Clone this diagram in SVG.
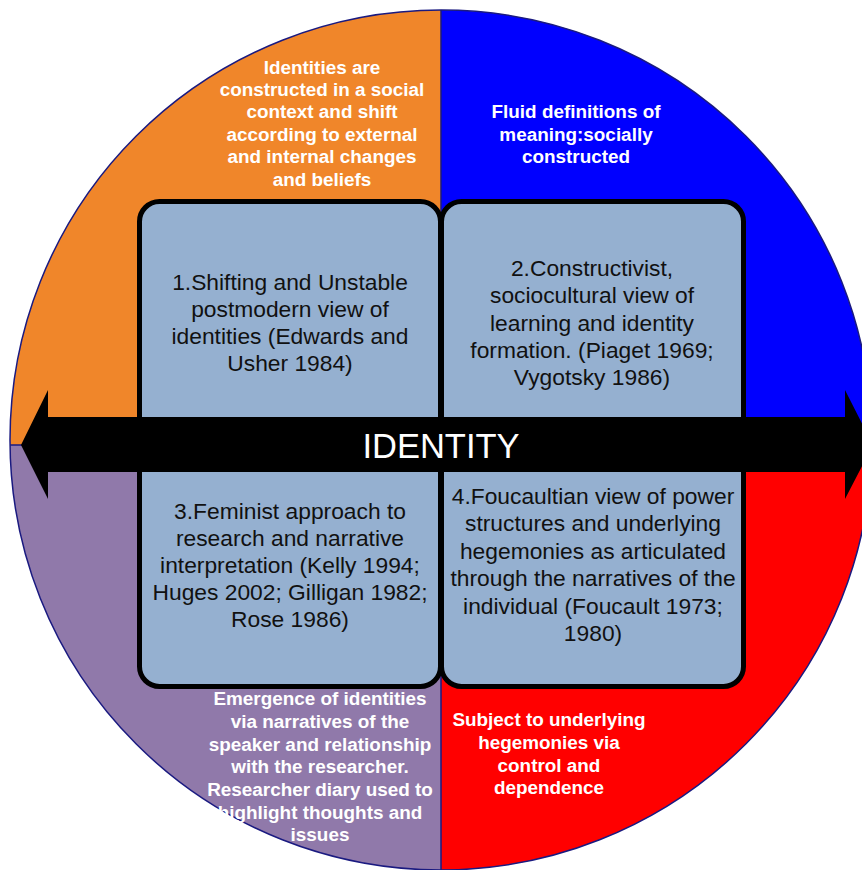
<svg xmlns="http://www.w3.org/2000/svg" width="862" height="870" viewBox="0 0 862 870">
<defs>
<clipPath id="circ"><ellipse cx="441" cy="440" rx="431" ry="430"/></clipPath>
<style>
.box{fill:#95B0D0;stroke:#000;stroke-width:5}
.bt{font-family:"Liberation Sans",Arial,sans-serif;font-size:22.8px;fill:#111;text-anchor:middle}
.ot{font-family:"Liberation Sans",Arial,sans-serif;font-size:18.9px;font-weight:bold;fill:#fff;text-anchor:middle}
.div{stroke:#1a1a80;stroke-width:1.5;fill:none}
</style>
</defs>
<rect width="862" height="870" fill="#fff"/>
<g id="quadrants" clip-path="url(#circ)">
<rect x="0" y="0" width="441" height="445" fill="#F0862A"/>
<rect x="441" y="0" width="431" height="445" fill="#0000FF"/>
<rect x="0" y="445" width="441" height="430" fill="#9079AA"/>
<rect x="441" y="445" width="431" height="430" fill="#FF0000"/>
<line class="div" x1="441" y1="0" x2="441" y2="875"/>
<line class="div" x1="0" y1="445" x2="875" y2="445"/>
</g>
<ellipse class="div" cx="441" cy="440" rx="431" ry="430"/>
<g id="label-tl">
<text class="ot" x="322" y="74">Identities are</text>
<text class="ot" x="322" y="96">constructed in a social</text>
<text class="ot" x="322" y="118">context and shift</text>
<text class="ot" x="322" y="141">according to external</text>
<text class="ot" x="322" y="163">and internal changes</text>
<text class="ot" x="322" y="186">and beliefs</text>
</g>
<g id="label-tr">
<text class="ot" x="576" y="118">Fluid definitions of</text>
<text class="ot" x="576" y="141">meaning:socially</text>
<text class="ot" x="576" y="163">constructed</text>
</g>
<g id="label-bl">
<text class="ot" x="320" y="705">Emergence of identities</text>
<text class="ot" x="320" y="728">via narratives of the</text>
<text class="ot" x="320" y="750.5">speaker and relationship</text>
<text class="ot" x="320" y="773">with the researcher.</text>
<text class="ot" x="320" y="796">Researcher diary used to</text>
<text class="ot" x="320" y="818.5">highlight thoughts and</text>
<text class="ot" x="320" y="841">issues</text>
</g>
<g id="label-br">
<text class="ot" x="549" y="726">Subject to underlying</text>
<text class="ot" x="549" y="749">hegemonies via</text>
<text class="ot" x="549" y="771.5">control and</text>
<text class="ot" x="549" y="794">dependence</text>
</g>
<g id="box1">
<rect class="box" x="139.5" y="201.5" width="301" height="260" rx="20"/>
<text class="bt" x="290" y="290">1.Shifting and Unstable</text>
<text class="bt" x="290" y="317">postmodern view of</text>
<text class="bt" x="290" y="344">identities (Edwards and</text>
<text class="bt" x="290" y="371">Usher 1984)</text>
</g>
<g id="box2">
<rect class="box" x="441.5" y="201.5" width="302" height="260" rx="20"/>
<text class="bt" x="592" y="276">2.Constructivist,</text>
<text class="bt" x="592" y="303">sociocultural view of</text>
<text class="bt" x="592" y="330.5">learning and identity</text>
<text class="bt" x="592" y="358">formation. (Piaget 1969;</text>
<text class="bt" x="592" y="385">Vygotsky 1986)</text>
</g>
<g id="box3">
<rect class="box" x="139.5" y="430" width="301" height="256.5" rx="20"/>
<text class="bt" x="290" y="519">3.Feminist approach to</text>
<text class="bt" x="290" y="546">research and narrative</text>
<text class="bt" x="290" y="573">interpretation (Kelly 1994;</text>
<text class="bt" x="290" y="600">Huges 2002; Gilligan 1982;</text>
<text class="bt" x="290" y="627">Rose 1986)</text>
</g>
<g id="box4">
<rect class="box" x="441.5" y="430" width="302" height="256.5" rx="20"/>
<text class="bt" x="593" y="504">4.Foucaultian view of power</text>
<text class="bt" x="593" y="531">structures and underlying</text>
<text class="bt" x="593" y="559">hegemonies as articulated</text>
<text class="bt" x="593" y="586">through the narratives of the</text>
<text class="bt" x="593" y="614">individual (Foucault 1973;</text>
<text class="bt" x="593" y="641">1980)</text>
</g>
<g id="connectors">
<g id="identity-arrow">
<polygon points="21,445 48,390 48,417 845,417 845,390 873,445 845,499 845,472 48,472 48,499" fill="#000"/>
<text x="441" y="458" font-family="'Liberation Sans',Arial,sans-serif" font-size="34.5" fill="#fff" text-anchor="middle">IDENTITY</text>
</g>
</g>
</svg>
